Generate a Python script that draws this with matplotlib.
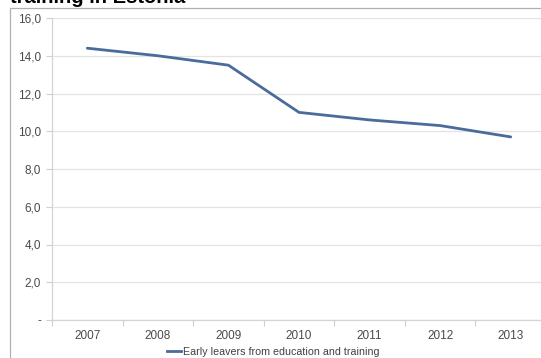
import matplotlib
matplotlib.use("Agg")
import matplotlib.pyplot as plt
from matplotlib.patches import Rectangle
from matplotlib.lines import Line2D

years = ["2007", "2008", "2009", "2010", "2011", "2012", "2013"]
values = [14.4, 14.0, 13.5, 11.0, 10.6, 10.3, 9.7]
yticks = [0, 2, 4, 6, 8, 10, 12, 14, 16]
ytick_labels = ["-", "2,0", "4,0", "6,0", "8,0", "10,0", "12,0", "14,0", "16,0"]
series_name = "Early leavers from education and training"
title = "training in Estonia"

plt.rcParams['font.family'] = ['Liberation Sans', 'DejaVu Sans']

W, H = 541, 358
fig = plt.figure(figsize=(W / 100, H / 100), dpi=100)

# outer frame
frame = Rectangle((10 / W, -0.1), 1.2, (H - 8) / H + 0.1, transform=fig.transFigure,
                  fill=False, edgecolor="#b0b0b0", linewidth=0.9)
fig.patches.append(frame)

fig.text(10 / W, (H - 3) / H, title, fontsize=14.5, fontweight="bold",
         ha="left", va="baseline", color="black")

ax = fig.add_axes([52 / W, 38 / H, 494 / W, 302 / H])
x = list(range(len(years)))
ax.plot(x, values, color="#4a6b9b", linewidth=2.0, solid_capstyle="round")
ax.set_xlim(-0.5, len(years) - 0.5)
ax.set_ylim(0, 16)
ax.set_yticks(yticks)
ax.set_yticklabels(ytick_labels)
ax.set_xticks(x)
ax.set_xticklabels(years)
ax.set_xticks([i - 0.5 for i in range(len(years) + 1)], minor=True)
ax.tick_params(axis="x", which="major", length=0, pad=7, labelsize=8.5, labelcolor="#4a4a4a")
ax.tick_params(axis="x", which="minor", length=4, color="#cfcfcf", width=0.8)
ax.tick_params(axis="y", length=4, color="#cfcfcf", width=0.8, pad=4, labelsize=8.5, labelcolor="#4a4a4a")
ax.grid(axis="y", color="#e3e3e3", linewidth=0.9)
ax.set_axisbelow(True)
for s in ["top", "right"]:
    ax.spines[s].set_visible(False)
for s in ["left", "bottom"]:
    ax.spines[s].set_color("#d4d4d4")
    ax.spines[s].set_linewidth(0.9)

handle = Line2D([], [], color="#4a6b9b", linewidth=2.0)
fig.legend([handle], [series_name], loc="center", bbox_to_anchor=(273 / W, 6 / H),
           frameon=False, fontsize=7.7, handlelength=1.3, handletextpad=0.15,
           labelcolor="#404040", borderpad=0)

fig.savefig("out.png", dpi=100)
